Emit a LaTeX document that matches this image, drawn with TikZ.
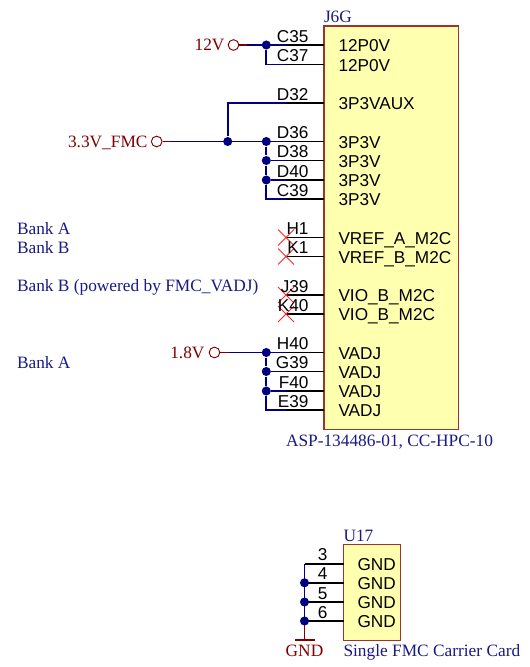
\documentclass[tikz,border=0pt]{standalone}
\usepackage{fontspec}
\setmainfont{Liberation Sans}
\newfontfamily\serifnote{Liberation Serif}
\definecolor{wireblue}{RGB}{0,0,128}
\definecolor{notered}{RGB}{128,0,0}
\definecolor{noteblue}{RGB}{25,25,135}
\definecolor{chipfill}{RGB}{255,255,176}
\definecolor{chipline}{RGB}{160,50,50}
\definecolor{crossred}{RGB}{255,40,40}
\tikzset{every picture/.style={line width=0.75pt}}
\tikzset{
  chipbox/.style={draw=chipline,fill=chipfill,line width=0.8pt,inner sep=0pt,outer sep=0pt,anchor=north west},
  pinname/.style={anchor=base west,inner sep=0.75pt,yshift=-0.75pt,font=\fontsize{12.9}{14}\selectfont,text=black},
  pinnum/.style={anchor=base east,inner sep=0.75pt,yshift=-0.75pt,font=\fontsize{12.9}{14}\selectfont,text=black},
  bluetext/.style={anchor=base west,inner sep=0.75pt,yshift=-0.75pt,font=\serifnote\fontsize{13}{14}\selectfont,text=noteblue},
  nettext/.style={anchor=base east,inner sep=0.75pt,yshift=-0.75pt,font=\serifnote\fontsize{13}{14}\selectfont,text=notered},
  pinline/.style={draw=black,line width=1.2pt},
  wire/.style={draw=wireblue,line width=1.3pt},
  netstub/.style={draw=notered,line width=1.3pt},
  joint/.style={circle,fill=wireblue,inner sep=0pt,minimum size=6.8pt},
  netring/.style={circle,draw=notered,fill=white,inner sep=0pt,minimum size=8pt,line width=0.7pt},
  nocross/.style={draw=crossred,line width=0.7pt},
}

\begin{document}
\begin{tikzpicture}[x=0.75pt,y=0.75pt,yscale=-1,xscale=1]
\useasboundingbox (0,0) rectangle (529,667);

%Shape: Rectangle J6G
\node [chipbox,minimum width=100.9pt,minimum height=302.5pt] (j6g) at (324,26) {};
%Shape: Rectangle U17
\node [chipbox,minimum width=43pt,minimum height=71.7pt] (u17) at (343.5,544.5) {};

%Pin ends
\coordinate (c35) at (286,45);
\coordinate (c37) at (286,64.5);
\coordinate (d32) at (286,103);
\coordinate (d36) at (286,141.5);
\coordinate (d38) at (286,160.5);
\coordinate (d40) at (286,180);
\coordinate (c39) at (286,199);
\coordinate (h1) at (286,237.5);
\coordinate (k1) at (286,256.5);
\coordinate (j39) at (286,295);
\coordinate (k40) at (286,314);
\coordinate (h40) at (286,352.5);
\coordinate (g39) at (286,371.5);
\coordinate (f40) at (286,391);
\coordinate (e39) at (286,410);
\coordinate (pin3) at (304.5,563.7);
\coordinate (pin4) at (304.5,582.8);
\coordinate (pin5) at (304.5,602);
\coordinate (pin6) at (304.5,621);

%Straight Lines pins
\draw [pinline] (c35) -- (j6g.west |- c35);
\draw [pinline] (c37) -- (j6g.west |- c37);
\draw [pinline] (d32) -- (j6g.west |- d32);
\draw [pinline] (d36) -- (j6g.west |- d36);
\draw [pinline] (d38) -- (j6g.west |- d38);
\draw [pinline] (d40) -- (j6g.west |- d40);
\draw [pinline] (c39) -- (j6g.west |- c39);
\draw [pinline] (h1) -- (j6g.west |- h1);
\draw [pinline] (k1) -- (j6g.west |- k1);
\draw [pinline] (j39) -- (j6g.west |- j39);
\draw [pinline] (k40) -- (j6g.west |- k40);
\draw [pinline] (h40) -- (j6g.west |- h40);
\draw [pinline] (g39) -- (j6g.west |- g39);
\draw [pinline] (f40) -- (j6g.west |- f40);
\draw [pinline] (e39) -- (j6g.west |- e39);
\draw [pinline] (pin3) -- (u17.west |- pin3);
\draw [pinline] (pin4) -- (u17.west |- pin4);
\draw [pinline] (pin5) -- (u17.west |- pin5);
\draw [pinline] (pin6) -- (u17.west |- pin6);

%Shape: Circle net rings
\node [netring] (ring12) at (233.5,45) {};
\node [netring] (ring33) at (156.7,141.5) {};
\node [netring] (ring18) at (214.5,352.5) {};

%Junctions
\node [joint] (jc35) at (266.3,45) {};
\node [joint] (jsplit) at (227.7,141.5) {};
\node [joint] (jd36) at (266.3,141.5) {};
\node [joint] (jd38) at (266.3,160.5) {};
\node [joint] (jd40) at (266.3,180) {};
\node [joint] (jh40) at (266.3,352.5) {};
\node [joint] (jg39) at (266.3,371.5) {};
\node [joint] (jf40) at (266.3,391) {};
\node [joint] (jp4) at (pin4) {};
\node [joint] (jp5) at (pin5) {};
\node [joint] (jp6) at (pin6) {};

%Straight Lines 12V
\coordinate (stub12) at (247,45);
\draw [netstub] (ring12) -- (stub12);
\draw [wire] (stub12) -- (c35);
\draw [wire] (jc35) |- (c37);
%Straight Lines 3.3V
\coordinate (stub33) at (171,141.5);
\draw [netstub] (ring33) -- (stub33);
\draw [wire] (stub33) -- (d36);
\draw [wire] (jsplit) |- (d32);
\draw [wire] (jd36) -- (jd38) -- (jd40);
\draw [wire] (jd40) |- (c39);
\draw [wire] (jd38) -- (d38);
\draw [wire] (jd40) -- (d40);
%Straight Lines 1.8V
\coordinate (stub18) at (229,352.5);
\draw [netstub] (ring18) -- (stub18);
\draw [wire] (stub18) -- (h40);
\draw [wire] (jh40) -- (jg39) -- (jf40);
\draw [wire] (jf40) |- (e39);
\draw [wire] (jg39) -- (g39);
\draw [wire] (jf40) -- (f40);
%Straight Lines GND
\coordinate (gndtop) at (304.5,640);
\coordinate (gndleft) at (295,640);
\coordinate (gndright) at (315,640);
\coordinate (gndstub) at (304.5,625);
\draw [wire] (pin3) -- (gndstub);
\draw [netstub] (gndstub) -- (gndtop);
\draw [netstub] (gndleft) -- (gndright);

%Crosses
\draw [nocross] (278,229.5) -- (294,245.5) (278,245.5) -- (294,229.5);
\draw [nocross] (278,248.5) -- (294,264.5) (278,264.5) -- (294,248.5);
\draw [nocross] (278,287) -- (294,303) (278,303) -- (294,287);
\draw [nocross] (278,306) -- (294,322) (278,322) -- (294,306);

% Text Node
\draw (322.5,21.5) node [bluetext] (lj6g) {J6G};
\draw (284.5,445) node [bluetext] (lasp) {ASP-134486-01, CC-HPC-10};
\draw (342,540.5) node [bluetext] (lu17) {U17};
\draw (342,655.5) node [bluetext] (lcard) {Single FMC Carrier Card};
\draw (15.5,233) node [bluetext] (lbanka) {Bank A};
\draw (15.5,252) node [bluetext] (lbankb) {Bank B};
\draw (15.5,290.5) node [bluetext] (lbankv) {Bank B (powered by FMC\_VADJ)};
\draw (15.5,367.5) node [bluetext] (lbankc) {Bank A};
% Text Node
\draw (226,50) node [nettext] (n12) {12V};
\draw (149,146.5) node [nettext] (n33) {3.3V\_FMC};
\draw (206,357.5) node [nettext] (n18) {1.8V};
\draw (304.5,655.5) node [nettext,anchor=base] (ngnd) {GND};
% Text Node
\draw (310,41.5) node [pinnum] (tc35) {C35};
\draw (310,60.5) node [pinnum] (tc37) {C37};
\draw (310,99) node [pinnum] (td32) {D32};
\draw (310,137.5) node [pinnum] (td36) {D36};
\draw (310,156.5) node [pinnum] (td38) {D38};
\draw (310,176) node [pinnum] (td40) {D40};
\draw (310,195) node [pinnum] (tc39) {C39};
\draw (310,233.5) node [pinnum] (th1) {H1};
\draw (310,252.5) node [pinnum] (tk1) {K1};
\draw (310,291) node [pinnum] (tj39) {J39};
\draw (310,310) node [pinnum] (tk40) {K40};
\draw (310,348.5) node [pinnum] (th40) {H40};
\draw (310,367.5) node [pinnum] (tg39) {G39};
\draw (310,387) node [pinnum] (tf40) {F40};
\draw (310,406) node [pinnum] (te39) {E39};
\draw (329,559.5) node [pinnum] (t3) {3};
\draw (329,578.5) node [pinnum] (t4) {4};
\draw (329,598) node [pinnum] (t5) {5};
\draw (329,617) node [pinnum] (t6) {6};
% Text Node
\draw (337,50.5) node [pinname] (p12a) {12P0V};
\draw (337,70) node [pinname] (p12b) {12P0V};
\draw (337,108.5) node [pinname] (paux) {3P3VAUX};
\draw (337,147) node [pinname] (p33a) {3P3V};
\draw (337,166) node [pinname] (p33b) {3P3V};
\draw (337,185.5) node [pinname] (p33c) {3P3V};
\draw (337,204.5) node [pinname] (p33d) {3P3V};
\draw (337,243) node [pinname] (prefa) {VREF\_A\_M2C};
\draw (337,262) node [pinname] (prefb) {VREF\_B\_M2C};
\draw (337,300.5) node [pinname] (pvioa) {VIO\_B\_M2C};
\draw (337,319.5) node [pinname] (pviob) {VIO\_B\_M2C};
\draw (337,358) node [pinname] (padja) {VADJ};
\draw (337,377) node [pinname] (padjb) {VADJ};
\draw (337,396.5) node [pinname] (padjc) {VADJ};
\draw (337,415.5) node [pinname] (padjd) {VADJ};
\draw (356,569) node [pinname] (pgnda) {GND};
\draw (356,588) node [pinname] (pgndb) {GND};
\draw (356,607.5) node [pinname] (pgndc) {GND};
\draw (356,626.5) node [pinname] (pgndd) {GND};

\end{tikzpicture}
\end{document}
